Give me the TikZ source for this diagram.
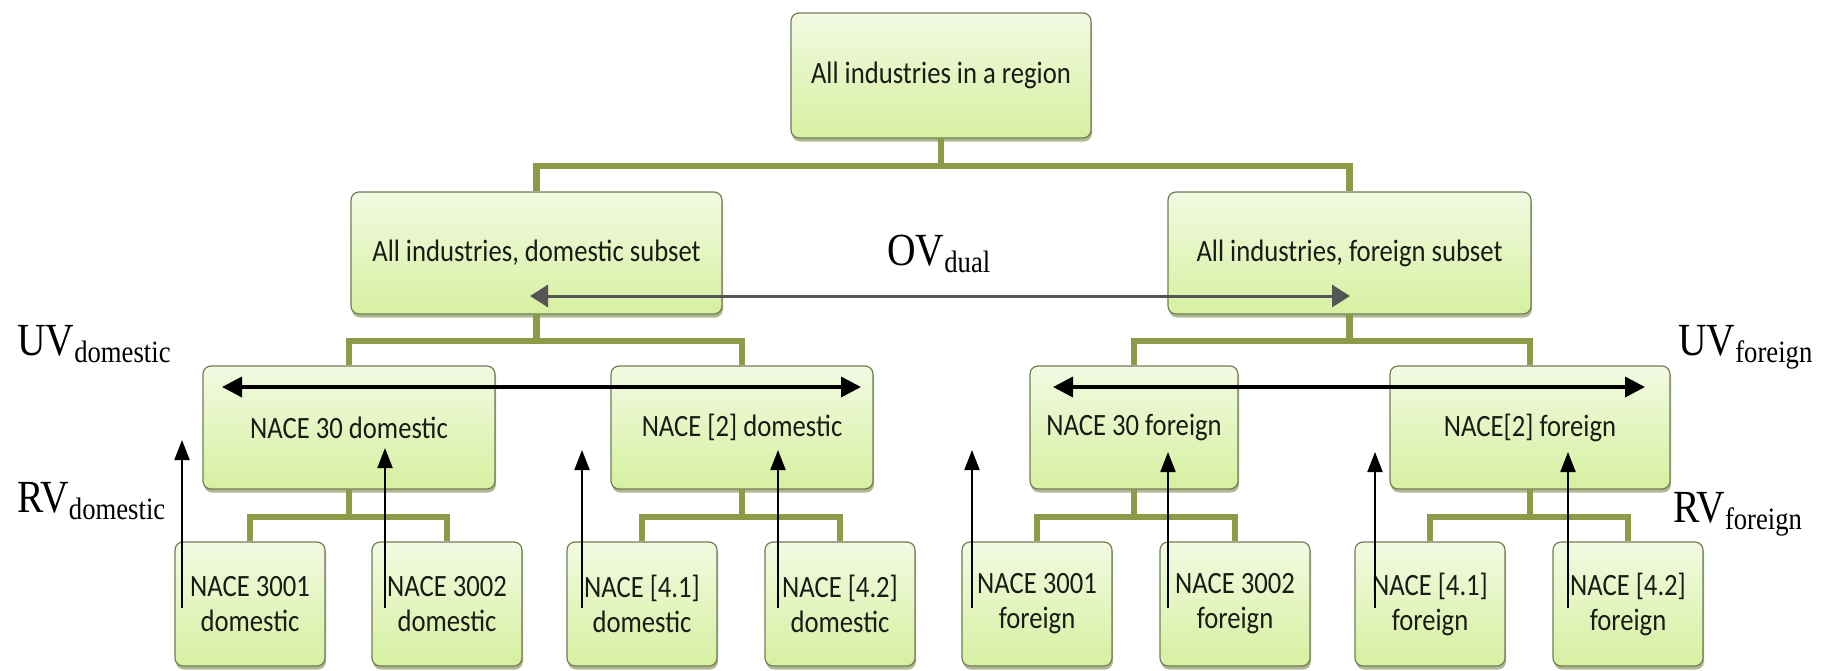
\documentclass[tikz,border=0pt]{standalone}
\usepackage{fontspec}
\newfontfamily\boxfont[FakeStretch=0.86]{Carlito}
\newfontfamily\lblfont[FakeStretch=0.86]{Liberation Serif}
\usetikzlibrary{arrows.meta,shadows,calc}
\definecolor{connc}{RGB}{139,155,72}
\definecolor{boxedge}{RGB}{112,124,86}
\definecolor{boxtop}{RGB}{242,250,226}
\definecolor{boxbot}{RGB}{214,240,160}
\definecolor{boxshadow}{RGB}{150,160,110}
\definecolor{textc}{RGB}{25,28,20}
\definecolor{ovc}{RGB}{85,85,85}
\newcommand{\subtxt}[1]{\raisebox{-7pt}{\lblfont\fontsize{31}{31}\selectfont #1}}
\begin{document}
\begin{tikzpicture}[x=1pt,y=-1pt,
  box/.style={rectangle, rounded corners=8pt, draw=boxedge, line width=1.2pt,
    top color=boxtop, bottom color=boxbot,
    drop shadow={shadow xshift=1pt, shadow yshift=-3.5pt, fill=boxshadow, opacity=0.75},
    font=\boxfont\fontsize{31}{35}\selectfont, text=textc, align=center, inner sep=0pt},
  lvlA/.style={box, minimum height=125pt},
  lvlB/.style={box, minimum height=122pt},
  lvlC/.style={box, minimum height=123pt},
  leaf/.style={box, minimum width=150pt, minimum height=124pt},
  connline/.style={draw=connc, line width=6.5pt, line join=miter},
  uvarr/.style={{Triangle[length=20pt,width=20pt]}-{Triangle[length=20pt,width=20pt]}, line width=3.5pt, black},
  ovarr/.style={{Triangle[length=18pt,width=22pt]}-{Triangle[length=18pt,width=22pt]}, line width=3pt, ovc},
  rvarr/.style={-{Triangle[length=20pt,width=15pt]}, line width=2pt, black},
  lbl/.style={font=\lblfont\fontsize{46}{46}\selectfont, inner sep=0pt, anchor=base west, text=black},
]
\useasboundingbox (0,0) rectangle (1825,670);

% nodes
\node[lvlA, minimum width=300pt] (top) at (941,75.5) {All industries in a region};
\node[lvlB, minimum width=371pt] (dom) at (536.5,253) {All industries, domestic subset};
\node[lvlB, minimum width=363pt] (for) at (1349.5,253) {All industries, foreign subset};

\node[lvlC, minimum width=292pt] (n30d) at (349,427.5) {NACE 30 domestic};
\node[lvlC, minimum width=262pt] (n2d) at (742,427.5) {NACE [2] domestic};
\node[lvlC, minimum width=208pt] (n30f) at (1134,427.5) {NACE 30 foreign};
\node[lvlC, minimum width=280pt] (n2f) at (1530,427.5) {NACE[2] foreign};

\node[leaf] (l1) at (250,604) {NACE 3001\\domestic};
\node[leaf] (l2) at (447,604) {NACE 3002\\domestic};
\node[leaf] (l3) at (642,604) {NACE [4.1]\\domestic};
\node[leaf] (l4) at (840,604) {NACE [4.2]\\domestic};
\node[leaf] (l5) at (1037,604) {NACE 3001\\foreign};
\node[leaf] (l6) at (1235,604) {NACE 3002\\foreign};
\node[leaf] (l7) at (1430,604) {NACE [4.1]\\foreign};
\node[leaf] (l8) at (1628,604) {NACE [4.2]\\foreign};

% tree connectors
\coordinate (barA) at (0,166);
\coordinate (barB) at (0,341);
\coordinate (barC) at (0,517);
\draw[connline] (top.south) -- (top.south |- barA) -| (dom.north);
\draw[connline] (top.south |- barA) -| (for.north);
\draw[connline] (dom.south) -- (dom.south |- barB) -| (n30d.north);
\draw[connline] (dom.south |- barB) -| (n2d.north);
\draw[connline] (for.south) -- (for.south |- barB) -| (n30f.north);
\draw[connline] (for.south |- barB) -| (n2f.north);
\draw[connline] (n30d.south) -- (n30d.south |- barC) -| (l1.north);
\draw[connline] (n30d.south |- barC) -| (l2.north);
\draw[connline] (n2d.south) -- (n2d.south |- barC) -| (l3.north);
\draw[connline] (n2d.south |- barC) -| (l4.north);
\draw[connline] (n30f.south) -- (n30f.south |- barC) -| (l5.north);
\draw[connline] (n30f.south |- barC) -| (l6.north);
\draw[connline] (n2f.south) -- (n2f.south |- barC) -| (l7.north);
\draw[connline] (n2f.south |- barC) -| (l8.north);

% OV arrow
\coordinate (ovL) at (530,296);
\coordinate (ovR) at (1350,296);
\draw[ovarr] (ovL) -- (ovR);

% UV arrows
\coordinate (uvdL) at (222,387);
\coordinate (uvdR) at (861,387);
\coordinate (uvfL) at (1053,387);
\coordinate (uvfR) at (1645,387);
\draw[uvarr] (uvdL) -- (uvdR);
\draw[uvarr] (uvfL) -- (uvfR);

% RV arrows
\foreach \x/\t [count=\i] in {182/440,385/448,582/450,778/450,972/450,1168/452,1375/452,1568/452} {
  \coordinate (rvs\i) at (\x,608);
  \coordinate (rve\i) at (\x,\t);
  \draw[rvarr] (rvs\i) -- (rve\i);
}

% labels
\node[lbl] (ovlab) at (887,265) {OV\subtxt{dual}};
\node[lbl] (uvdlab) at (17,355) {UV\subtxt{domestic}};
\node[lbl] (rvdlab) at (17,512) {RV\subtxt{domestic}};
\node[lbl] (uvflab) at (1678,355) {UV\subtxt{foreign}};
\node[lbl] (rvflab) at (1673,522) {RV\subtxt{foreign}};
\end{tikzpicture}
\end{document}
